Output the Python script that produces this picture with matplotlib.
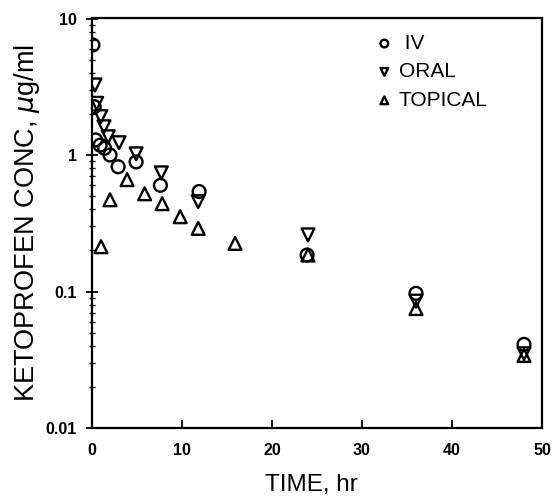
import matplotlib
matplotlib.use("Agg")
import matplotlib.pyplot as plt
from matplotlib.ticker import LogLocator, NullFormatter, FixedLocator

# ---- data ----
iv_time = [0.1, 0.25, 0.4, 0.9, 1.4, 2.0, 2.9, 4.9, 7.6, 11.9, 23.9, 36, 48]
iv_conc = [6.4, 2.26, 1.29, 1.18, 1.12, 1.0, 0.82, 0.89, 0.60, 0.54, 0.185, 0.097, 0.041]

oral_time = [0.33, 0.52, 0.97, 1.33, 1.8, 3.0, 4.9, 7.7, 11.8, 24, 36, 48]
oral_conc = [3.26, 2.39, 1.91, 1.61, 1.36, 1.23, 1.02, 0.74, 0.455, 0.26, 0.085, 0.035]

top_time = [1.0, 2.0, 3.9, 5.85, 7.8, 9.8, 11.8, 15.9, 24, 36, 48]
top_conc = [0.213, 0.47, 0.66, 0.52, 0.44, 0.353, 0.29, 0.225, 0.185, 0.075, 0.034]

series_labels = [" IV", "ORAL", "TOPICAL"]
x_ticks = [0, 10, 20, 30, 40, 50]
y_ticks = [0.01, 0.1, 1, 10]
y_ticklabels = ["0.01", "0.1", "1", "10"]

# ---- figure ----
W, H = 553, 498
fig = plt.figure(figsize=(W / 100, H / 100), dpi=100)
L, R, T, B = 92, 542, 18.5, 428
ax = fig.add_axes([L / W, 1 - B / H, (R - L) / W, (B - T) / H])

mk = dict(facecolor="none", edgecolor="black", linewidths=1.7, s=85, zorder=3)
h1 = ax.scatter(iv_time, iv_conc, marker="o", **mk)
h2 = ax.scatter(oral_time, oral_conc, marker="v", **mk)
h3 = ax.scatter(top_time, top_conc, marker="^", **mk)

ax.set_yscale("log")
ax.set_xlim(0, 50)
ax.set_ylim(0.01, 10)

for s in ax.spines.values():
    s.set_linewidth(1.6)

tickfont = dict(family="Liberation Sans", weight="bold", size=11.5)
ax.xaxis.set_major_locator(FixedLocator(x_ticks))
ax.set_xticklabels([str(v) for v in x_ticks], **tickfont)
ax.yaxis.set_major_locator(FixedLocator(y_ticks))
ax.set_yticklabels(y_ticklabels, **tickfont)
ax.yaxis.set_minor_locator(LogLocator(base=10, subs=range(2, 10)))
ax.yaxis.set_minor_formatter(NullFormatter())

ax.tick_params(axis="x", which="major", direction="in", length=6, width=1.3, pad=11)
ax.tick_params(axis="x", which="minor", bottom=False)
ax.tick_params(axis="y", which="major", direction="inout", length=8, width=1.3, pad=7)
ax.tick_params(axis="y", which="minor", direction="inout", length=4, width=1.0)

ax.set_xlabel("TIME, hr", family="Liberation Sans", size=17.5)
ax.set_ylabel(r"KETOPROFEN CONC, $\mu$g/ml", family="Liberation Sans", size=19.5)
ax.xaxis.set_label_coords((311 - L) / (R - L), -(474 - B) / (B - T))
ax.yaxis.set_label_coords((42 - L) / (R - L), 0.5)

leg = ax.legend([h1, h2, h3], series_labels, loc="upper left",
                bbox_to_anchor=((376 - L) / (R - L), 1 - (34 - T) / (B - T)),
                frameon=False, borderpad=0, borderaxespad=0,
                handlelength=0.8, handletextpad=0.3, labelspacing=0.45,
                markerscale=0.6, prop=dict(family="Liberation Sans", size=15))

fig.savefig("out.png", dpi=100)
